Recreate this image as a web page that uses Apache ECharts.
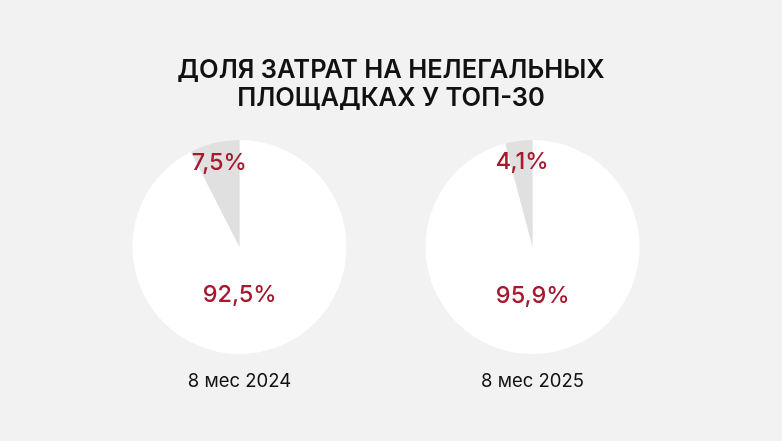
<!DOCTYPE html>
<html><head><meta charset="utf-8">
<script src="https://cdn.jsdelivr.net/npm/echarts@6/dist/echarts.min.js"></script>
<style>html,body{margin:0;padding:0;background:#f2f2f2}#c{width:782px;height:441px}</style>
</head><body><div id="c"></div>
<script>
var titleLines = 'ДОЛЯ ЗАТРАТ НА НЕЛЕГАЛЬНЫХ\nПЛОЩАДКАХ У ТОП-30';
var periods = ['8 мес 2024', '8 мес 2025'];
var legalShare = [92.5, 95.9];
var illegalShare = [7.5, 4.1];

var centers = [[239.5, 247], [532.5, 247]];
var bigOffsets = [[-13, -7], [-7, -7]];
var smallOffsets = [[-7, -29], [-3, -29]];
var FONT = 'Inter, "Noto Sans", sans-serif';
var RED = '#a6192e';

function fmt(v){ return String(v).replace('.', ',') + '%'; }

var series = periods.map(function(p, i){
  return {
    type: 'pie',
    center: centers[i],
    radius: [0, 107],
    startAngle: 90,
    clockwise: true,
    silent: true,
    animation: false,
    labelLine: {show: false},
    emphasis: {disabled: true},
    label: {show: true, position: 'inside', color: RED, fontFamily: FONT, fontSize: 23.5, fontWeight: 500,
      formatter: function(d){ return fmt(d.value); }},
    data: [
      {name: 'legal', value: legalShare[i], itemStyle: {color: '#ffffff'}, label: {offset: bigOffsets[i]}},
      {name: 'illegal', value: illegalShare[i], itemStyle: {color: '#e0e0e0'}, label: {offset: smallOffsets[i]}}
    ]
  };
});

var titles = [{
  text: titleLines, left: 'center', top: 51,
  textStyle: {fontFamily: FONT, fontSize: 25.5, fontWeight: 600, color: '#111', lineHeight: 28}
}];
periods.forEach(function(p, i){
  titles.push({text: p, left: centers[i][0] - 5, top: 367,
    textAlign: 'center',
    textStyle: {fontFamily: FONT, fontSize: 18.5, fontWeight: 400, color: '#111'}});
});

var chart = echarts.init(document.getElementById('c'));
chart.setOption({
  backgroundColor: '#f2f2f2',
  animation: false,
  title: titles,
  series: series
});
</script></body></html>
